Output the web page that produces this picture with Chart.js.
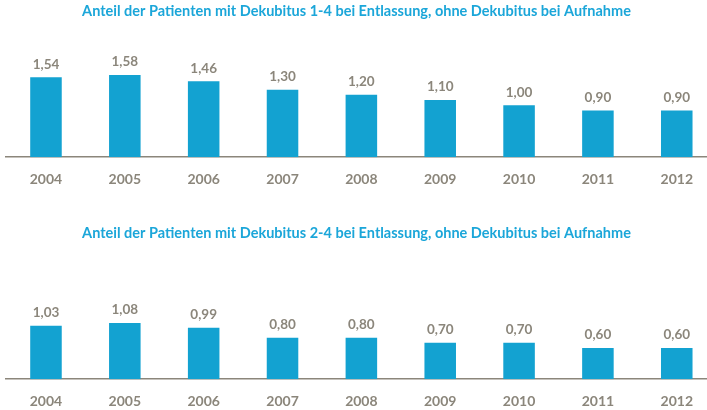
<!DOCTYPE html>
<html>
<head>
<meta charset="utf-8">
<script src="https://cdn.jsdelivr.net/npm/chart.js@4/dist/chart.umd.min.js"></script>
<style>
  html, body { margin: 0; padding: 0; background: #fff; }
  body { position: relative; width: 707px; height: 410px; overflow: hidden; }
  .panel { position: absolute; left: 0; width: 707px; height: 202px; }
</style>
</head>
<body>
<div class="panel" style="top:0"><canvas id="chartStage1" width="707" height="202"></canvas></div>
<div class="panel" style="top:222px"><canvas id="chartStage2" width="707" height="202"></canvas></div>
<script>
// years on the x axis
const years = [2004, 2005, 2006, 2007, 2008, 2009, 2010, 2011, 2012];

// share of patients (%) with pressure ulcer at discharge
const stage1to4 = [1.54, 1.58, 1.46, 1.30, 1.20, 1.10, 1.00, 0.90, 0.90];
const stage2to4 = [1.03, 1.08, 0.99, 0.80, 0.80, 0.70, 0.70, 0.60, 0.60];

const title1 = 'Anteil der Patienten mit Dekubitus 1-4 bei Entlassung, ohne Dekubitus bei Aufnahme';
const title2 = 'Anteil der Patienten mit Dekubitus 2-4 bei Entlassung, ohne Dekubitus bei Aufnahme';

const blue = '#13a2d1';
const titleBlue = '#1ba6d9';
const grey = '#8b867b';
const fontFamily = 'Lato, "Open Sans", sans-serif';

// writes the value above each bar, German decimal comma
const valueLabels = {
    id: 'valueLabels',
    afterDatasetsDraw(chart) {
        const ctx = chart.ctx;
        const meta = chart.getDatasetMeta(0);
        const values = chart.data.datasets[0].data;
        ctx.save();
        ctx.fillStyle = grey;
        ctx.font = 'bold 13.5px ' + fontFamily;
        ctx.textAlign = 'center';
        ctx.textBaseline = 'middle';
        meta.data.forEach((bar, i) => {
            const label = values[i].y.toFixed(2).replace('.', ',');
            ctx.fillText(label, bar.x, bar.y - 13);
        });
        ctx.restore();
    }
};

function renderBarChart(canvasId, title, values) {
    const ctx = document.getElementById(canvasId).getContext('2d');
    new Chart(ctx, {
        type: 'bar',
        data: {
            datasets: [{
                data: years.map((year, i) => ({ x: year, y: values[i] })),
                backgroundColor: blue,
                borderWidth: 0,
                barPercentage: 0.4,
                categoryPercentage: 1
            }]
        },
        options: {
            responsive: false,
            animation: false,
            layout: { padding: { left: 6, right: 0, top: 0, bottom: 0 } },
            plugins: {
                legend: { display: false },
                tooltip: { enabled: false },
                title: {
                    display: true,
                    text: title,
                    color: titleBlue,
                    font: { family: fontFamily, size: 14.5, weight: 'bold' },
                    padding: { top: 3, bottom: 10 }
                }
            },
            scales: {
                x: {
                    type: 'linear',
                    offset: false,
                    min: 2003.493,
                    max: 2012.381,
                    grid: { display: false, drawTicks: false, offset: false },
                    border: { display: true, color: grey, width: 1.5 },
                    afterBuildTicks: axis => { axis.ticks = years.map(v => ({ value: v })); },
                    ticks: {
                        color: grey,
                        padding: 14,
                        font: { family: fontFamily, size: 14, weight: 'bold' },
                        callback: v => String(v)
                    }
                },
                y: {
                    display: false,
                    min: 0,
                    max: 2.44
                }
            }
        },
        plugins: [valueLabels]
    });
}

renderBarChart('chartStage1', title1, stage1to4);
renderBarChart('chartStage2', title2, stage2to4);
</script>
</body>
</html>
